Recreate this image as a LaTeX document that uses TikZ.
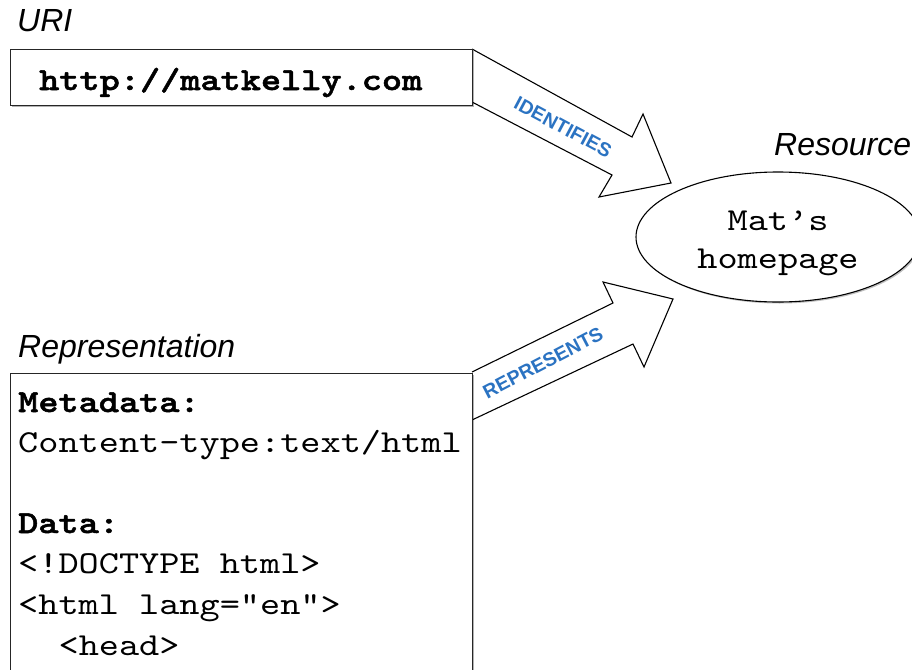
\documentclass[tikz,border=0pt]{standalone}
\usepackage{fontspec}
\setmainfont{Liberation Sans}
% typewriter face for the code samples, widened to a 0.63em advance
\newfontfamily\monofont{lmmono10-regular.otf}[BoldFont=lmmonolt10-bold.otf, FakeStretch=1.2,
  BoldFeatures={FakeBold=1.6}]
\usetikzlibrary{shapes.geometric,shadows}
\definecolor{linkblue}{HTML}{2B73C2}
\tikzset{
  box/.style={draw=black!85, line width=1.2pt, fill=white, rectangle, inner sep=0pt,
    drop shadow={shadow xshift=1.5pt, shadow yshift=-1.5pt, fill=black, opacity=0.3}},
  blockarrow/.style={draw=black, line width=1.1pt, fill=white, line join=miter},
  caption/.style={anchor=base west, inner sep=0pt, font=\fontsize{32}{38}\selectfont\itshape},
  code/.style={anchor=base west, inner sep=0pt, font=\fontsize{32}{40}\selectfont\monofont},
  codebold/.style={code, font=\fontsize{32}{40}\selectfont\monofont\bfseries},
  arrowlabel/.style={inner sep=0pt, text=linkblue, font=\fontsize{19.5}{22}\selectfont\bfseries},
}
\begin{document}
\begin{tikzpicture}[x=1pt,y=-1pt]
  \useasboundingbox (0,0) rectangle (912,669);

  % captions
  \node[caption] (urical) at (17,32) {URI};
  \node[caption] (repcal) at (18,357) {Representation};
  \node[caption] (rescal) at (774,155) {Resource};

  % block arrows (drawn first so the boxes cover their back edges)
  \coordinate (ia1) at (472,49);
  \coordinate (ia2) at (472,102);
  \draw[blockarrow] (ia1) -- (632,137) -- (643,114) -- (671,183) -- (599,197) -- (612,175) -- (ia2);
  \coordinate (ra1) at (472,372);
  \coordinate (ra2) at (472,420);
  \draw[blockarrow] (ra1) -- (613,303) -- (603,282) -- (673,299) -- (644,367) -- (633,344) -- (ra2);

  \node[arrowlabel, rotate=-28] (idlab) at (563,127) {IDENTIFIES};
  \node[arrowlabel, rotate=27.5] (replab) at (543,363) {REPRESENTS};

  % URI box
  \node[box, anchor=north west, minimum width=462pt, minimum height=56pt] (uri) at (10,49) {};
  \node[codebold] (url) at (39,90) {http://matkelly.com};

  % representation box
  \node[box, anchor=north west, minimum width=462pt, minimum height=330pt] (rep) at (10,373) {};
  \node[codebold] (l1) at (18,412) {Metadata:};
  \node[code] (l2) at (18,452) {Content-type:text/html};
  \node[codebold] (l3) at (18,533) {Data:};
  \node[code] (l4) at (18,573) {<!DOCTYPE html>};
  \node[code] (l5) at (18,614) {<html lang="en">};
  \node[code] (l6) at (58.4,655) {<head>};

  % resource ellipse
  \node[ellipse, draw=black, line width=1.1pt, fill=white, minimum width=284pt, minimum height=130pt,
        drop shadow={shadow xshift=1.5pt, shadow yshift=-1.5pt, fill=black, opacity=0.25}] (res) at (778,237) {};
  \node[code, anchor=base] (m1) at (778,230) {Mat’s};
  \node[code, anchor=base] (m2) at (778,268) {homepage};
\end{tikzpicture}
\end{document}
